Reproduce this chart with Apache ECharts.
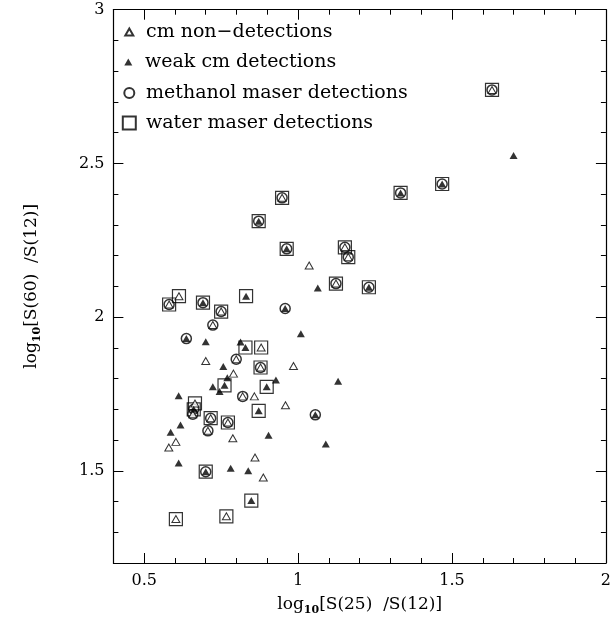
<!DOCTYPE html>
<html><head><meta charset="utf-8">
<script src="https://cdn.jsdelivr.net/npm/echarts@6/dist/echarts.min.js"></script>
<style>html,body{margin:0;padding:0;background:#fff}#c{width:614px;height:621px}</style>
</head><body><div id="c"></div>
<script>
// x = log10[S(25)/S(12)], y = log10[S(60)/S(12)]
const cmNonDetections = [
  [1.630, 2.739], [0.948, 2.388], [1.152, 2.227], [1.163, 2.195], [1.036, 2.168],
  [1.123, 2.109], [0.613, 2.068], [0.581, 2.041], [0.750, 2.018], [0.723, 1.974],
  [0.880, 1.901], [0.700, 1.857], [0.799, 1.863], [0.790, 1.816], [0.878, 1.836],
  [0.985, 1.841], [0.820, 1.742], [0.858, 1.742], [0.959, 1.713], [0.665, 1.719],
  [0.658, 1.684], [0.716, 1.671], [0.772, 1.657], [0.707, 1.630], [0.603, 1.594],
  [0.580, 1.576], [0.788, 1.606], [0.860, 1.543], [0.887, 1.478], [0.603, 1.343],
  [0.767, 1.352]
];
const weakCmDetections = [
  [1.700, 2.526], [1.468, 2.433], [1.333, 2.404], [0.872, 2.312], [0.963, 2.222],
  [1.064, 2.095], [1.230, 2.097], [0.691, 2.047], [0.831, 2.068], [0.958, 2.028],
  [0.637, 1.930], [0.700, 1.920], [0.813, 1.919], [0.829, 1.901], [1.009, 1.946],
  [0.757, 1.839], [0.770, 1.803], [0.928, 1.795], [1.130, 1.791], [0.761, 1.778],
  [0.723, 1.773], [0.745, 1.758], [0.898, 1.773], [0.612, 1.744], [0.872, 1.695],
  [1.056, 1.682], [0.661, 1.700], [0.618, 1.649], [0.586, 1.625], [0.904, 1.616],
  [1.090, 1.587], [0.612, 1.525], [0.700, 1.497], [0.781, 1.508], [0.838, 1.500],
  [0.848, 1.403]
];
const methanolMasers = [
  [1.630, 2.739], [0.948, 2.388], [1.152, 2.227], [1.163, 2.195], [1.123, 2.109],
  [0.581, 2.041], [0.750, 2.018], [0.723, 1.974], [0.799, 1.863], [0.878, 1.836],
  [0.820, 1.742], [0.658, 1.684], [0.716, 1.671], [0.772, 1.657], [0.707, 1.630],
  [1.468, 2.433], [1.333, 2.404], [0.872, 2.312], [0.963, 2.222], [1.230, 2.097],
  [0.691, 2.047], [0.958, 2.028], [0.637, 1.930], [1.056, 1.682], [0.661, 1.700],
  [0.700, 1.497]
];
const waterMasers = [
  [1.630, 2.739], [0.948, 2.388], [1.152, 2.227], [1.163, 2.195], [1.123, 2.109],
  [0.613, 2.068], [0.581, 2.041], [0.750, 2.018], [0.880, 1.901], [0.878, 1.836],
  [0.665, 1.719], [0.716, 1.671], [0.772, 1.657], [0.603, 1.343], [0.767, 1.352],
  [1.468, 2.433], [1.333, 2.404], [0.872, 2.312], [0.963, 2.222], [1.230, 2.097],
  [0.691, 2.047], [0.831, 2.068], [0.829, 1.901], [0.761, 1.778], [0.898, 1.773],
  [0.872, 1.695], [0.661, 1.700], [0.700, 1.497], [0.848, 1.403]
];
const xTickLabels = [0.5, 1, 1.5, 2];
const yTickLabels = [1.5, 2, 2.5, 3];
const seriesNames = ['cm non\u2212detections', 'weak cm detections', 'methanol maser detections', 'water maser detections'];
const xTitle = '{m|log}{s|10}{m|[S(25)  /S(12)]}';
const yTitle = '{m|log}{s|10}{m|[S(60)  /S(12)]}';

const FONT = '"DejaVu Serif", "Liberation Serif", serif';
const BLACK = '#000';

function labelFmt(list) {
  return function (v) {
    for (const t of list) { if (Math.abs(v - t) < 1e-6) return String(t); }
    return '';
  };
}
const nameStyle = {
  color: BLACK, fontFamily: FONT, fontSize: 17, lineHeight: 22,
  rich: {
    m: { color: BLACK, fontFamily: FONT, fontSize: 17, lineHeight: 22 },
    s: { color: BLACK, fontFamily: FONT, fontSize: 11, fontWeight: 'bold', lineHeight: 11, verticalAlign: 'bottom' }
  }
};
function minorAxis(pos, min, max, labels, extra) {
  return Object.assign({
    type: 'value', position: pos, min: min, max: max, interval: 0.1,
    axisLine: { show: true, onZero: false, lineStyle: { color: BLACK, width: 1.2 } },
    axisTick: { show: true, inside: true, length: 5, lineStyle: { color: BLACK, width: 1 } },
    axisLabel: labels ? { show: true, formatter: labelFmt(labels), color: BLACK, fontFamily: FONT, fontSize: 16, margin: labels === xTickLabels ? 10 : 9 } : { show: false },
    splitLine: { show: false }
  }, extra || {});
}
function majorAxis(pos, min, max, majors) {
  return {
    type: 'value', position: pos, min: min, max: max,
    axisLine: { show: false, onZero: false },
    axisTick: { show: true, inside: true, length: 10, customValues: majors, lineStyle: { color: BLACK, width: 1 } },
    axisLabel: { show: false },
    splitLine: { show: false }
  };
}

const chart = echarts.init(document.getElementById('c'), null, { renderer: 'canvas' });
const ICON_CX = 128.3, TEXT_X = 145;
const legendRows = [
  { name: seriesNames[0], icon: 'triangle', cy: 32, w: 8, h: 7 },
  { name: seriesNames[1], icon: 'triangle', cy: 62, w: 8, h: 7 },
  { name: seriesNames[2], icon: 'circle', cy: 93, w: 10, h: 10 },
  { name: seriesNames[3], icon: 'rect', cy: 123, w: 13, h: 13 }
];
chart.setOption({
  animation: false,
  backgroundColor: '#fff',
  grid: { left: 113.4, right: 5.7, top: 9.7, bottom: 57, containLabel: false },
  legend: legendRows.map(r => ({
    data: [{ name: r.name, icon: r.icon }],
    orient: 'vertical', left: ICON_CX - r.w / 2, top: r.cy - 10, padding: 0,
    itemWidth: r.w, itemHeight: r.h, itemGap: 0, selectedMode: false,
    textStyle: { color: BLACK, fontFamily: FONT, fontSize: 19, lineHeight: 20,
      padding: [0, 0, 0, TEXT_X - (ICON_CX + r.w / 2) - 5] }
  })),
  xAxis: [
    minorAxis('bottom', 0.4, 2.0, xTickLabels, { name: xTitle, nameLocation: 'middle', nameGap: 31, nameTextStyle: nameStyle }),
    majorAxis('bottom', 0.4, 2.0, xTickLabels),
    minorAxis('top', 0.4, 2.0, null),
    majorAxis('top', 0.4, 2.0, xTickLabels)
  ],
  yAxis: [
    minorAxis('left', 1.2, 3.0, yTickLabels, { name: yTitle, nameLocation: 'middle', nameGap: 71, nameRotate: 90, nameTextStyle: nameStyle }),
    majorAxis('left', 1.2, 3.0, yTickLabels),
    minorAxis('right', 1.2, 3.0, null),
    majorAxis('right', 1.2, 3.0, yTickLabels)
  ],
  series: [
    { name: seriesNames[3], type: 'scatter', data: waterMasers, symbol: 'rect', symbolSize: 13, z: 2, silent: true,
      itemStyle: { color: 'rgba(0,0,0,0)', borderColor: BLACK, borderWidth: 1.2 } },
    { name: seriesNames[2], type: 'scatter', data: methanolMasers, symbol: 'circle', symbolSize: 10, z: 3, silent: true,
      itemStyle: { color: 'rgba(0,0,0,0)', borderColor: BLACK, borderWidth: 1.5 } },
    { name: seriesNames[0], type: 'scatter', data: cmNonDetections, symbol: 'triangle', symbolSize: [8, 7], z: 4, silent: true,
      itemStyle: { color: '#fff', borderColor: BLACK, borderWidth: 1 } },
    { name: seriesNames[1], type: 'scatter', data: weakCmDetections, symbol: 'triangle', symbolSize: [8, 7], z: 5, silent: true,
      itemStyle: { color: BLACK, borderColor: BLACK, borderWidth: 0 } }
  ]
});
</script>
</body></html>
